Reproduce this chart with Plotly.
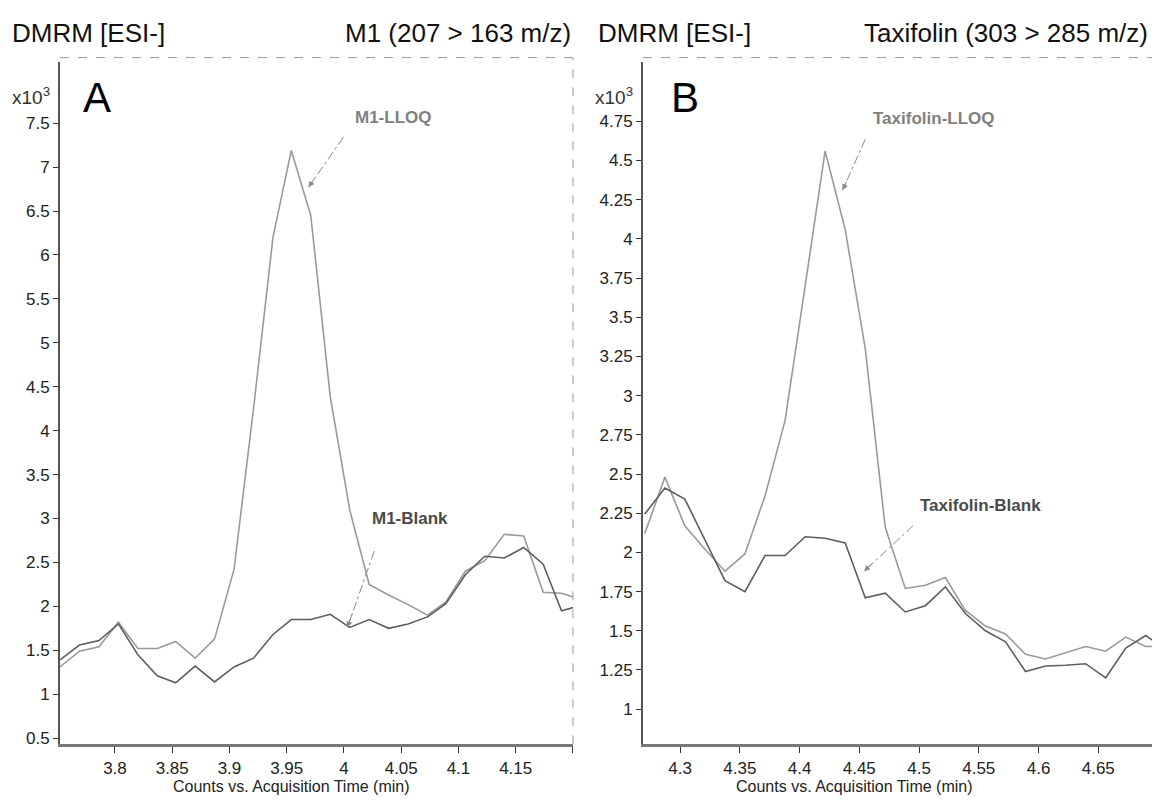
import plotly.graph_objects as go

# ---------------- Panel A: M1 (207 > 163 m/z) ----------------
m1_time = [3.752, 3.769, 3.786, 3.803, 3.820, 3.837, 3.853, 3.870, 3.887, 3.904,
           3.921, 3.938, 3.954, 3.971, 3.988, 4.005, 4.022, 4.039, 4.056, 4.073,
           4.089, 4.106, 4.123, 4.140, 4.157, 4.174, 4.190, 4.207]
m1_lloq = [1.31, 1.49, 1.54, 1.82, 1.52, 1.52, 1.60, 1.41, 1.63, 2.42,
           4.25, 6.20, 7.19, 6.45, 4.39, 3.10, 2.25, 2.13, 2.02, 1.90,
           2.05, 2.40, 2.52, 2.82, 2.80, 2.16, 2.15, 2.08]
m1_blank = [1.39, 1.56, 1.61, 1.80, 1.45, 1.21, 1.13, 1.32, 1.14, 1.31,
            1.41, 1.68, 1.85, 1.85, 1.91, 1.76, 1.85, 1.75, 1.80, 1.88,
            2.03, 2.36, 2.57, 2.55, 2.67, 2.48, 1.95, 2.01]
m1_xticks = [3.8, 3.85, 3.9, 3.95, 4.0, 4.05, 4.1, 4.15, 4.2]
m1_xlabels = ["3.8", "3.85", "3.9", "3.95", "4", "4.05", "4.1", "4.15", ""]
m1_yticks = [0.5, 1, 1.5, 2, 2.5, 3, 3.5, 4, 4.5, 5, 5.5, 6, 6.5, 7, 7.5]
m1_ylabels = ["0.5", "1", "1.5", "2", "2.5", "3", "3.5", "4", "4.5", "5",
              "5.5", "6", "6.5", "7", "7.5"]

# ---------------- Panel B: Taxifolin (303 > 285 m/z) ----------------
tax_time = [4.2705, 4.2873, 4.3040, 4.3208, 4.3376, 4.3543, 4.3711, 4.3879, 4.4047,
            4.4214, 4.4382, 4.4550, 4.4717, 4.4885, 4.5053, 4.5220, 4.5388, 4.5556,
            4.5724, 4.5891, 4.6059, 4.6227, 4.6394, 4.6562, 4.6730, 4.6897, 4.7065]
tax_lloq = [2.12, 2.48, 2.17, 2.02, 1.88, 1.99, 2.36, 2.84, 3.70,
            4.56, 4.06, 3.30, 2.16, 1.77, 1.79, 1.84, 1.63, 1.53,
            1.48, 1.35, 1.32, 1.36, 1.40, 1.37, 1.46, 1.40, 1.40]
tax_blank = [2.245, 2.41, 2.34, 2.08, 1.82, 1.75, 1.98, 1.98, 2.10,
             2.09, 2.06, 1.71, 1.74, 1.62, 1.66, 1.78, 1.61, 1.50,
             1.43, 1.24, 1.275, 1.28, 1.29, 1.20, 1.39, 1.47, 1.38]
tax_xticks = [4.3, 4.35, 4.4, 4.45, 4.5, 4.55, 4.6, 4.65]
tax_xlabels = ["4.3", "4.35", "4.4", "4.45", "4.5", "4.55", "4.6", "4.65"]
tax_yticks = [1, 1.25, 1.5, 1.75, 2, 2.25, 2.5, 2.75, 3, 3.25, 3.5, 3.75, 4, 4.25, 4.5, 4.75]
tax_ylabels = ["1", "1.25", "1.5", "1.75", "2", "2.25", "2.5", "2.75", "3", "3.25",
               "3.5", "3.75", "4", "4.25", "4.5", "4.75"]

LLOQ_COLOR = "#9a9a9a"
BLANK_COLOR = "#5e5e5e"
ARIAL = "Liberation Sans, Arial, sans-serif"

fig = go.Figure()

fig.add_trace(go.Scatter(x=m1_time, y=m1_lloq, mode="lines", xaxis="x", yaxis="y",
                         line=dict(color=LLOQ_COLOR, width=1.6), showlegend=False))
fig.add_trace(go.Scatter(x=m1_time, y=m1_blank, mode="lines", xaxis="x", yaxis="y",
                         line=dict(color=BLANK_COLOR, width=1.6), showlegend=False))
fig.add_trace(go.Scatter(x=tax_time, y=tax_lloq, mode="lines", xaxis="x2", yaxis="y2",
                         line=dict(color=LLOQ_COLOR, width=1.6), showlegend=False))
fig.add_trace(go.Scatter(x=tax_time, y=tax_blank, mode="lines", xaxis="x2", yaxis="y2",
                         line=dict(color=BLANK_COLOR, width=1.6), showlegend=False))

# label arrows: (text, xref, yref, text_x, text_y, start_x, start_y, end_x, end_y, color)
labels = [
    ("M1-LLOQ", "x", "y", 4.043, 7.57, 3.9995, 7.34, 3.969, 6.77, "#808080"),
    ("M1-Blank", "x", "y", 4.058, 3.00, 4.0265, 2.63, 4.003, 1.76, "#4a4a4a"),
    ("Taxifolin-LLOQ", "x2", "y2", 4.5125, 4.77, 4.455, 4.635, 4.436, 4.31, "#808080"),
    ("Taxifolin-Blank", "x2", "y2", 4.5515, 2.30, 4.495, 2.17, 4.454, 1.88, "#4a4a4a"),
]

annotations = []
for text, xr, yr, tx, ty, sx, sy, ex, ey, col in labels:
    fig.add_trace(go.Scatter(x=[sx, ex], y=[sy, ey], mode="lines", xaxis=xr, yaxis=yr,
                             line=dict(color="#8a8a8a", width=1, dash="dashdot"),
                             showlegend=False, hoverinfo="skip"))
    annotations.append(dict(text="<b>%s</b>" % text, x=tx, y=ty, xref=xr, yref=yr,
                            xanchor="center", yanchor="middle",
                            showarrow=False, font=dict(family=ARIAL, size=17, color=col)))
    annotations.append(dict(text="", x=ex, y=ey, xref=xr, yref=yr,
                            ax=ex + 0.2 * (sx - ex), ay=ey + 0.2 * (sy - ey),
                            axref=xr, ayref=yr, showarrow=True, arrowhead=2,
                            arrowsize=1.2, arrowwidth=1, arrowcolor="#8a8a8a"))


def paper_text(text, x, y, size, xanchor="center", color="#111"):
    return dict(text=text, x=x, y=y, xref="paper", yref="paper", xanchor=xanchor,
                yanchor="middle", showarrow=False,
                font=dict(family=ARIAL, size=size, color=color))


annotations += [
    paper_text("DMRM [ESI-]", 0.0087, 0.959, 26, "left"),
    paper_text("M1 (207 > 163 m/z)", 0.4965, 0.959, 26, "right"),
    paper_text("DMRM [ESI-]", 0.5165, 0.959, 26, "left"),
    paper_text("Taxifolin (303 > 285 m/z)", 0.9965, 0.959, 26, "right"),
    paper_text("A", 0.0841, 0.8783, 42, "center", "#000"),
    paper_text("B", 0.5936, 0.8783, 42, "center", "#000"),
    paper_text("x10<sup>3</sup>", 0.0451, 0.8807, 19, "right", "#333"),
    paper_text("x10<sup>3</sup>", 0.5503, 0.8807, 19, "right", "#333"),
    paper_text("Counts vs. Acquisition Time (min)", 0.2522, 0.0186, 16, "center", "#222"),
    paper_text("Counts vs. Acquisition Time (min)", 0.7409, 0.0186, 16, "center", "#222"),
]

shapes = []
for xr, yr in (("x", "y"), ("x2", "y2")):
    shapes.append(dict(type="line", xref=xr + " domain", yref=yr + " domain", x0=0, x1=1, y0=1.006, y1=1.006,
                       line=dict(color="#9a9a9a", width=1, dash="dash")))
shapes.append(dict(type="line", xref="x domain", yref="y domain", x0=1, x1=1, y0=0, y1=1.006,
                   line=dict(color="#9a9a9a", width=1, dash="dash")))

xaxis_common = dict(showgrid=False, zeroline=False, showline=True, linecolor="#777", linewidth=3,
                    ticks="outside", ticklen=6, tickwidth=1, tickcolor="#333",
                    tickfont=dict(family=ARIAL, size=17, color="#222"), fixedrange=True)
yaxis_common = dict(showgrid=False, zeroline=False, showline=True, linecolor="#555", linewidth=2,
                    ticks="outside", ticklen=5, tickwidth=1, tickcolor="#333",
                    tickfont=dict(family=ARIAL, size=17, color="#222"), fixedrange=True)

fig.update_layout(
    width=1154, height=805,
    margin=dict(l=0, r=0, t=0, b=0),
    paper_bgcolor="white", plot_bgcolor="white",
    showlegend=False,
    xaxis=dict(domain=[0.0520, 0.4965], range=[3.752, 4.2], anchor="y",
               tickvals=m1_xticks, ticktext=m1_xlabels, **xaxis_common),
    yaxis=dict(domain=[0.0708, 0.9230], range=[0.43, 8.2], anchor="x",
               tickvals=m1_yticks, ticktext=m1_ylabels, **yaxis_common),
    xaxis2=dict(domain=[0.5572, 0.9983], range=[4.269, 4.695], anchor="y2",
                tickvals=tax_xticks, ticktext=tax_xlabels, **xaxis_common),
    yaxis2=dict(domain=[0.0708, 0.9230], range=[0.776, 5.13], anchor="x2",
                tickvals=tax_yticks, ticktext=tax_ylabels, **yaxis_common),
    annotations=annotations,
    shapes=shapes,
)

fig.write_html("out.html", config={"displayModeBar": False},
               post_script="document.body.style.margin='0px';document.body.style.overflow='hidden';")
